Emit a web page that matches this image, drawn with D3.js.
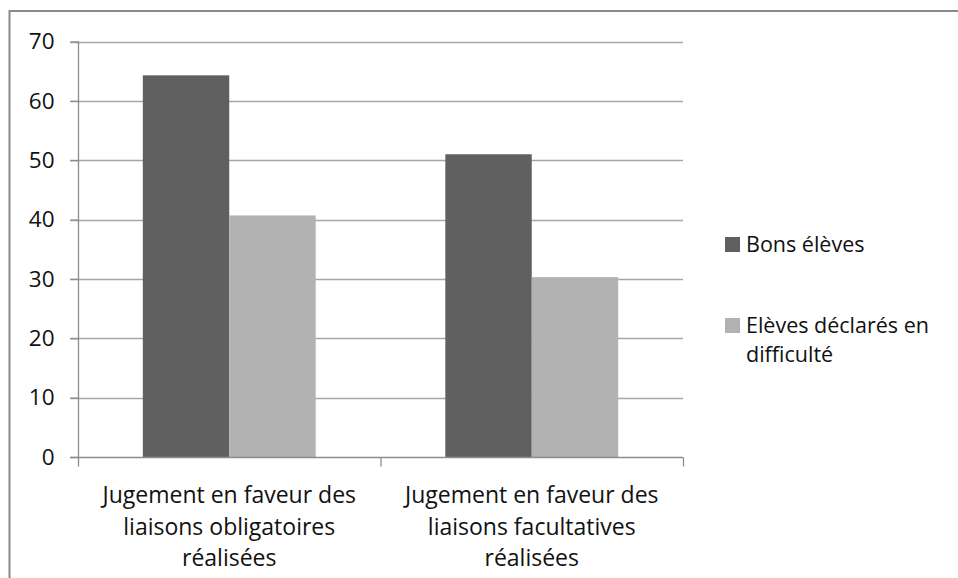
<!DOCTYPE html>
<html>
<head>
<meta charset="utf-8">
<script src="https://cdn.jsdelivr.net/npm/d3@7"></script>
<style>
  body { margin: 0; background: #fff; }
  text { font-family: "Open Sans", sans-serif; fill: #111; }
</style>
</head>
<body>
<svg width="958" height="578"></svg>
<script>
let categories = [
  ["Jugement en faveur des", "liaisons obligatoires", "réalisées"],
  ["Jugement en faveur des", "liaisons facultatives", "réalisées"]
];
let seriesNames = ["Bons élèves", "Elèves déclarés en difficulté"];
let bons = [64.3, 51.0];
let difficulte = [40.7, 30.3];
let yTicks = [0, 10, 20, 30, 40, 50, 60, 70];
let colours = ["#606060", "#b2b2b2"];

let svg = d3.select("svg");
let margin = {left: 78, right: 275, top: 41.5, bottom: 121};
let width = 958, height = 578;

// outer frame (runs off the right and bottom)
svg.append("rect")
  .attr("x", 9.5).attr("y", 11)
  .attr("width", 1000).attr("height", 1000)
  .attr("fill", "none")
  .attr("stroke", "#8a8a8a")
  .attr("stroke-width", 2);

let x = d3.scaleBand()
  .domain([0, 1])
  .range([margin.left, width - margin.right]);

let y = d3.scaleLinear()
  .domain([0, 70])
  .range([height - margin.bottom, margin.top]);

// bars: width = band / (2 + 1.5)
let barW = x.bandwidth() / 3.5;
let gap = barW * 0.75;

// gridlines
svg.append("g")
  .selectAll("line")
  .data(yTicks.filter(d => d > 0))
  .enter().append("line")
  .attr("x1", margin.left - 8)
  .attr("x2", width - margin.right)
  .attr("y1", d => Math.round(y(d)) + 0.5)
  .attr("y2", d => Math.round(y(d)) + 0.5)
  .attr("stroke", "#a6a6a6")
  .attr("stroke-width", 1.5);

let data = [bons, difficulte];
data.forEach((serie, s) => {
  svg.append("g")
    .selectAll("rect")
    .data(serie)
    .enter().append("rect")
    .attr("x", (d, i) => x(i) + gap + s * barW)
    .attr("width", barW)
    .attr("y", d => y(d))
    .attr("height", d => y(0) - y(d))
    .attr("fill", colours[s]);
});

// y axis
let yAxis = svg.append("g")
  .attr("transform", `translate(${margin.left + 0.5},0)`)
  .call(d3.axisLeft(y).tickValues(yTicks).tickSize(8).tickPadding(16));
yAxis.selectAll("line, path").attr("stroke", "#8c8c8c").attr("stroke-width", 1.3);
yAxis.select(".domain").attr("d", `M0,${y(70)}V${y(0)}`);
yAxis.selectAll("text")
  .style("font-family", "'Open Sans', sans-serif")
  .style("font-size", "22.5px")
  .attr("fill", "#111");

// x axis
let xAxis = svg.append("g")
  .attr("transform", `translate(0,${Math.round(y(0)) + 0.5})`);
xAxis.append("line")
  .attr("x1", margin.left - 8).attr("x2", width - margin.right)
  .attr("stroke", "#8c8c8c").attr("stroke-width", 1.3);
xAxis.selectAll(".tk")
  .data([0, 1, 2])
  .enter().append("line")
  .attr("x1", d => margin.left + d * x.bandwidth() + 0.5)
  .attr("x2", d => margin.left + d * x.bandwidth() + 0.5)
  .attr("y1", 0).attr("y2", 9)
  .attr("stroke", "#8c8c8c").attr("stroke-width", 1.3);

categories.forEach((lines, i) => {
  let t = svg.append("text")
    .attr("text-anchor", "middle")
    .style("font-size", "23px");
  lines.forEach((l, k) => {
    t.append("tspan")
      .attr("x", x(i) + x.bandwidth() / 2)
      .attr("y", 503 + k * 31.5)
      .text(l);
  });
});

// legend
let legendRows = [[seriesNames[0]], ["Elèves déclarés en", "difficulté"]];
let legendY = [237, 318];
legendRows.forEach((lines, s) => {
  svg.append("rect")
    .attr("x", 725).attr("y", legendY[s])
    .attr("width", 15).attr("height", 15)
    .attr("fill", colours[s]);
  let t = svg.append("text").style("font-size", "21.5px");
  lines.forEach((l, k) => {
    t.append("tspan")
      .attr("x", 746)
      .attr("y", legendY[s] + 15 + k * 29)
      .text(l);
  });
});
</script>
</body>
</html>
